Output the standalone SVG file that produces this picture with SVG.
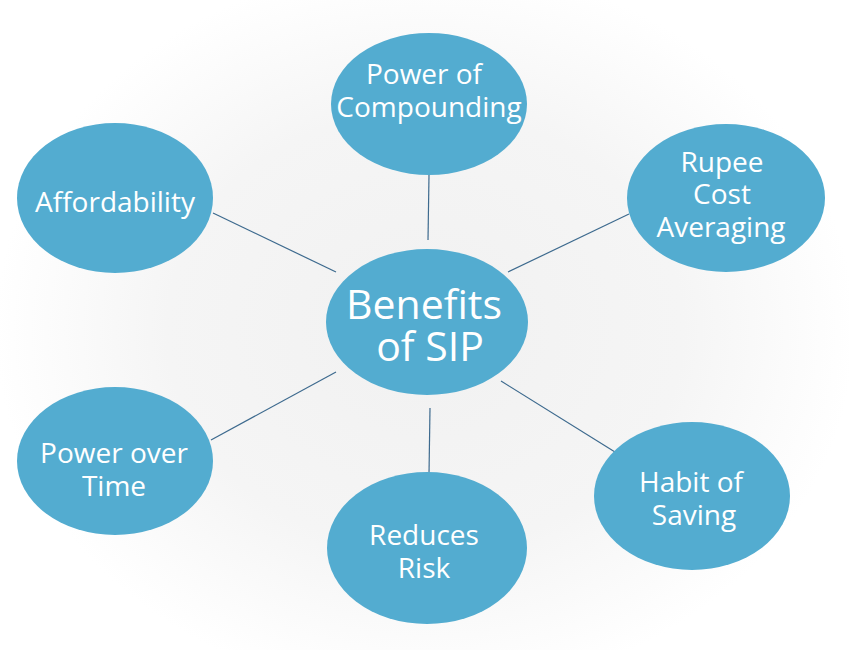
<svg xmlns="http://www.w3.org/2000/svg" width="850" height="650" viewBox="0 0 850 650">
<defs>
<radialGradient id="bg" cx="425" cy="330" r="430" gradientUnits="userSpaceOnUse" gradientTransform="translate(425 330) scale(1 0.85) translate(-425 -330)">
<stop offset="0" stop-color="#f1f1f1"/>
<stop offset="0.6" stop-color="#f5f5f5"/>
<stop offset="0.92" stop-color="#fdfdfd"/>
<stop offset="1" stop-color="#ffffff"/>
</radialGradient>
</defs>
<style>
.node{fill:#53acd0}
.lbl{font-family:"Open Sans","Noto Sans","DejaVu Sans",sans-serif;font-size:28px;fill:#ffffff;text-anchor:middle}
.big{font-size:41px}
.conn line{stroke:#3d6a8e;stroke-width:1.2}
</style>
<rect width="850" height="650" fill="#ffffff"/>
<rect width="850" height="650" fill="url(#bg)"/>
<g class="conn" id="connectors">
<line x1="429" y1="175" x2="428" y2="240"/>
<line x1="213" y1="213" x2="336" y2="272"/>
<line x1="629" y1="214" x2="508" y2="272"/>
<line x1="211" y1="440" x2="336" y2="372"/>
<line x1="430" y1="408" x2="429" y2="474"/>
<line x1="501" y1="381" x2="615" y2="452"/>
</g>
<g id="center">
<ellipse class="node" cx="427" cy="322" rx="101" ry="73"/>
<text class="lbl big" x="424" y="319">Benefits</text>
<text class="lbl big" x="430" y="361">of SIP</text>
</g>
<g id="compounding">
<ellipse class="node" cx="429" cy="104" rx="98" ry="71"/>
<text class="lbl" x="424" y="84">Power of</text>
<text class="lbl" x="429" y="117">Compounding</text>
</g>
<g id="affordability">
<ellipse class="node" cx="115" cy="198" rx="98" ry="75"/>
<text class="lbl" x="115" y="212">Affordability</text>
</g>
<g id="rupee">
<ellipse class="node" cx="726" cy="198" rx="99" ry="74"/>
<text class="lbl" x="722" y="172">Rupee</text>
<text class="lbl" x="722" y="204">Cost</text>
<text class="lbl" x="721" y="237">Averaging</text>
</g>
<g id="powertime">
<ellipse class="node" cx="115" cy="461" rx="98" ry="74"/>
<text class="lbl" x="114" y="463">Power over</text>
<text class="lbl" x="114" y="496">Time</text>
</g>
<g id="risk">
<ellipse class="node" cx="427" cy="548" rx="100" ry="76"/>
<text class="lbl" x="424" y="545">Reduces</text>
<text class="lbl" x="424" y="578">Risk</text>
</g>
<g id="habit">
<ellipse class="node" cx="692" cy="496" rx="98" ry="74"/>
<text class="lbl" x="691" y="492">Habit of</text>
<text class="lbl" x="694" y="525">Saving</text>
</g>
</svg>
